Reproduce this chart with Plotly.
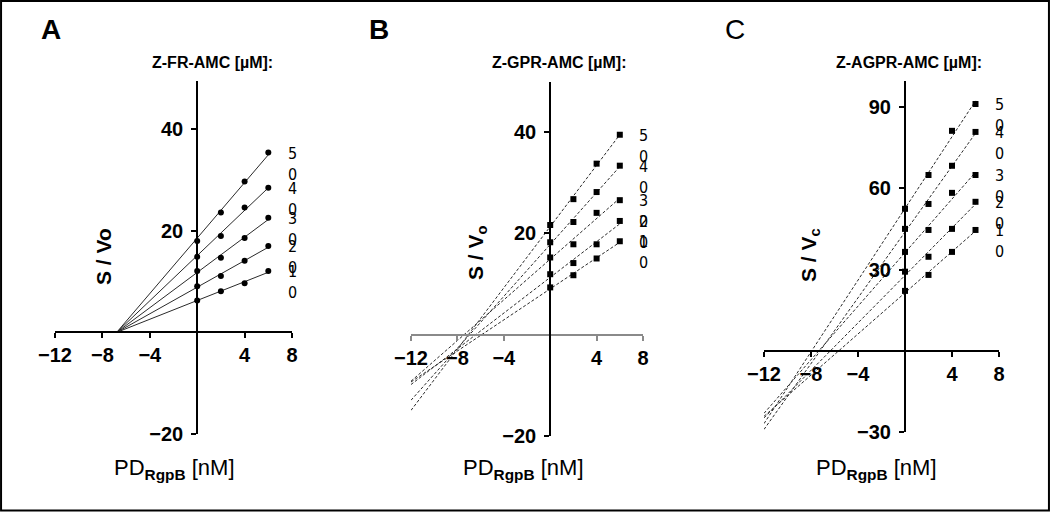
import numpy as np
import plotly.graph_objects as go

W, H = 1050, 512

# ---------------- data ----------------
x_pts = [0, 2, 4, 6]
conc = [10, 20, 30, 40, 50]          # substrate concentrations (µM), lines bottom -> top

# Panel A  Z-FR-AMC  (S/Vo at PD = 0,2,4,6 nM)
A_vals = [
    [6.3, 8.1, 9.7, 12.1],
    [9.1, 11.1, 14.1, 17.0],
    [12.1, 14.7, 18.6, 22.6],
    [14.9, 19.0, 24.6, 28.5],
    [18.0, 23.6, 29.7, 35.4],
]
A_x_intercept = -6.8                 # common intersection on x axis

# Panel B  Z-GPR-AMC
B_vals = [
    [9.3, 11.7, 15.0, 18.4],
    [11.9, 14.1, 17.8, 22.4],
    [15.2, 17.8, 24.0, 26.5],
    [18.2, 22.2, 28.1, 33.3],
    [21.6, 26.7, 33.7, 39.4],
]

# Panel C  Z-AGPR-AMC
C_vals = [
    [22.1, 28.0, 36.5, 44.6],
    [29.2, 34.7, 45.0, 55.0],
    [36.5, 44.6, 58.3, 64.9],
    [45.0, 54.2, 68.3, 80.8],
    [52.4, 64.9, 81.2, 91.1],
]

titles = ["Z-FR-AMC [µM]:", "Z-GPR-AMC [µM]:", "Z-AGPR-AMC [µM]:"]
letters = ["A", "B", "C"]
x_ticks = [-12, -8, -4, 4, 8]
yticks = [[-20, 20, 40], [-20, 20, 40], [-30, 30, 60, 90]]
x_range = [-12, 8]
y_ranges = [[-20, 49.5], [-20, 49.8], [-30, 99.6]]
fit_start = -12

# ---------------- layout geometry (pixels) ----------------
x_px = [(55, 292), (411, 643), (764, 999)]
y_px = [(81, 434), (82, 436), (81, 432)]

FONT = "Liberation Sans, Arial, sans-serif"
NARROW = "Liberation Sans Narrow, DejaVu Sans Condensed, Arial Narrow, sans-serif"

fig = go.Figure()

def px_x(p):
    return p / W

def px_y(p):
    return 1 - p / H

panels = [A_vals, B_vals, C_vals]
symbols = ["circle", "square", "square"]
annotations = []

for i, vals in enumerate(panels):
    xa = "x" if i == 0 else f"x{i+1}"
    ya = "y" if i == 0 else f"y{i+1}"
    xs = np.array(x_pts, dtype=float)
    for j, v in enumerate(vals):
        v = np.array(v, dtype=float)
        if i == 0:
            d = xs - A_x_intercept
            slope = np.sum(d * v) / np.sum(d * d)
            lx = np.array([A_x_intercept, 6.0])
            ly = slope * (lx - A_x_intercept)
            dash = "solid"
        else:
            slope, icpt = np.polyfit(xs, v, 1)
            lx = np.array([fit_start, 6.0])
            ly = slope * lx + icpt
            dash = "3px,2px"
        fig.add_trace(go.Scatter(x=lx, y=ly, mode="lines", xaxis=xa, yaxis=ya,
                                 line=dict(color="#2a2a2a", width=1, dash=dash),
                                 showlegend=False, hoverinfo="skip"))
        fig.add_trace(go.Scatter(x=xs, y=v, mode="markers", xaxis=xa, yaxis=ya,
                                 marker=dict(color="black", size=6, symbol=symbols[i]),
                                 showlegend=False))
        annotations.append(dict(
            x=6, y=v[-1], xref=xa, yref=ya, xanchor="center", yanchor="top",
            xshift=24, yshift=11, showarrow=False,
            text="<br>".join(list(str(conc[j]))),
            font=dict(family=NARROW, size=16, color="black")))

    (x0, x1), (y0, y1) = x_px[i], y_px[i]
    yr = y_ranges[i]
    zero_y_px = y1 - (0 - yr[0]) / (yr[1] - yr[0]) * (y1 - y0)
    zero_x_px = x0 + (0 - x_range[0]) / (x_range[1] - x_range[0]) * (x1 - x0)
    xcol = "#8a8a8a" if i == 1 else "black"
    xkey = "xaxis" if i == 0 else f"xaxis{i+1}"
    ykey = "yaxis" if i == 0 else f"yaxis{i+1}"
    fig.update_layout(**{
        xkey: dict(domain=[px_x(x0), px_x(x1)], range=x_range, anchor="free",
                   position=px_y(zero_y_px), showline=True, linecolor=xcol, linewidth=2,
                   ticks="outside", ticklen=5, tickwidth=2, tickcolor=xcol,
                   tickvals=x_ticks, showgrid=False, zeroline=False, automargin=False,
                   tickfont=dict(family=FONT, size=20, color="black", weight="bold")),
        ykey: dict(domain=[px_y(y1), px_y(y0)], range=yr, anchor="free",
                   position=px_x(zero_x_px), showline=True, linecolor="black", linewidth=2,
                   ticks="outside", ticklen=5, tickwidth=1.5, tickcolor="black",
                   tickvals=yticks[i], showgrid=False, zeroline=False, automargin=False,
                   ticklabelstandoff=4,
                   tickfont=dict(family=FONT, size=20, color="black", weight="bold")),
    })

# titles, letters, axis titles
title_cx = [212, 559, 909]
letter_cx = [51, 379, 735]
ylab_cx = [103, 477, 810]
ylab_cy = [257, 253, 255]
xlab_cx = [174, 523, 876]
ylab_text = ["<b>S / Vo</b>", "<b>S / V<sub>o</sub></b>", "<b>S / V<sub>c</sub></b>"]

def paper_note(cx, cy, text, size, angle=0):
    return dict(x=px_x(cx), y=px_y(cy), xref="paper", yref="paper",
                xanchor="center", yanchor="middle", text=text, textangle=angle,
                showarrow=False, font=dict(family=FONT, size=size, color="black"))

for i in range(3):
    annotations.append(paper_note(title_cx[i], 62, f"<b>{titles[i]}</b>", 16))
    annotations.append(paper_note(letter_cx[i], 29,
                                  f"<b>{letters[i]}</b>" if i < 2 else letters[i], 28))
    annotations.append(paper_note(ylab_cx[i], ylab_cy[i], ylab_text[i], 21, -90))
    annotations.append(paper_note(xlab_cx[i], 469, "PD<sub><b>RgpB</b></sub> [nM]", 22))

fig.update_layout(
    width=W, height=H, autosize=False,
    margin=dict(l=0, r=0, t=0, b=0, autoexpand=False),
    paper_bgcolor="white", plot_bgcolor="white",
    showlegend=False,
    annotations=annotations,
    shapes=[dict(type="rect", xref="paper", yref="paper", x0=0.001, y0=0.003,
                 x1=0.999, y1=0.998, line=dict(color="black", width=2))],
)

fig.write_html("out.html",
               config={"displayModeBar": False},
               post_script="document.body.style.margin='0';"
                           "document.body.style.overflow='hidden';")
